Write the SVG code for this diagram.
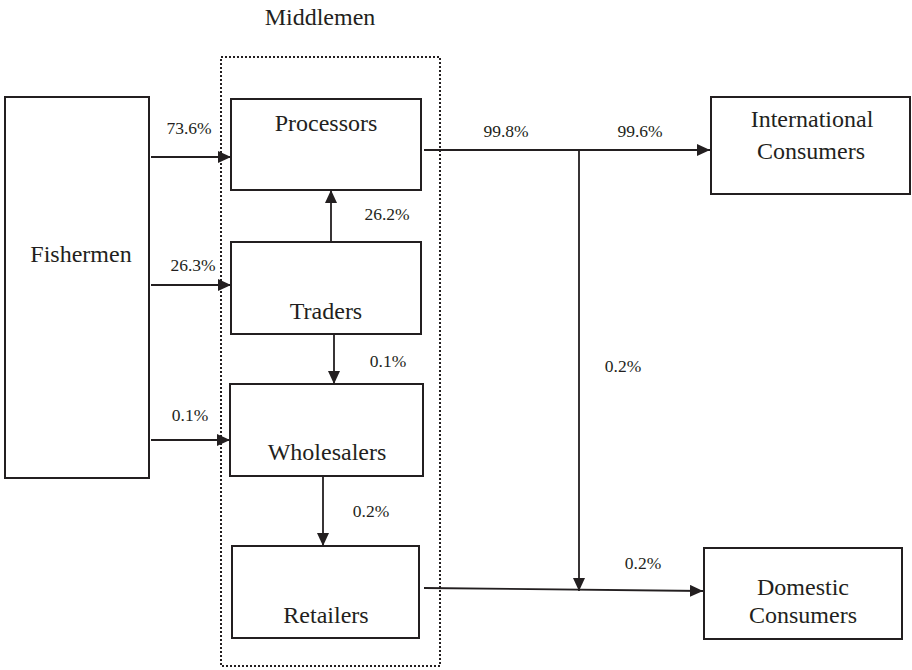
<svg xmlns="http://www.w3.org/2000/svg" width="912" height="670" viewBox="0 0 912 670">
<style>
.node{fill:#fff;stroke:#231f20;stroke-width:2}
.big{font-size:24px;fill:#231f20;text-anchor:middle}
.lbl{font-size:17.5px;fill:#231f20;text-anchor:middle}
.conn{fill:none;stroke:#231f20;stroke-width:1.8}
.dot{fill:none;stroke:#231f20;stroke-width:2;stroke-dasharray:2 2}
</style>
<defs>
<marker id="ah" markerUnits="userSpaceOnUse" markerWidth="14" markerHeight="12" refX="13" refY="6" orient="auto">
<path d="M0,0 L13,6 L0,12 Z" fill="#231f20"/>
</marker>
</defs>
<rect width="912" height="670" fill="#fff"/>
<g font-family="Liberation Serif, Times New Roman, serif">
<g id="middlemen">
<rect class="dot" x="221" y="57" width="219" height="609"/>
<text class="big" x="320" y="25">Middlemen</text>
</g>
<g id="fishermen"><rect class="node" x="5" y="97" width="144" height="381"/><text class="big" x="81" y="262">Fishermen</text></g>
<g id="processors"><rect class="node" x="231" y="99" width="190" height="91"/><text class="big" x="326" y="131">Processors</text></g>
<g id="traders"><rect class="node" x="231" y="242" width="190" height="92"/><text class="big" x="326" y="319">Traders</text></g>
<g id="wholesalers"><rect class="node" x="230" y="384" width="193" height="92"/><text class="big" x="327" y="460">Wholesalers</text></g>
<g id="retailers"><rect class="node" x="232" y="546" width="187" height="92"/><text class="big" x="326" y="623">Retailers</text></g>
<g id="international"><rect class="node" x="711" y="97" width="199" height="97"/><text class="big" x="812" y="127">International</text><text class="big" x="811" y="159">Consumers</text></g>
<g id="domestic"><rect class="node" x="704" y="548" width="198" height="91"/><text class="big" x="803" y="595">Domestic</text><text class="big" x="803" y="623">Consumers</text></g>
<g id="connectors">
<path class="conn" d="M151 157 H231" marker-end="url(#ah)"/>
<path class="conn" d="M151 285 H231" marker-end="url(#ah)"/>
<path class="conn" d="M151 440 H230" marker-end="url(#ah)"/>
<path class="conn" d="M331 242 V190" marker-end="url(#ah)"/>
<path class="conn" d="M334 334 V384" marker-end="url(#ah)"/>
<path class="conn" d="M323 476 V546" marker-end="url(#ah)"/>
<path class="conn" d="M424 150 H710" marker-end="url(#ah)"/>
<path class="conn" d="M579 150 V591" marker-end="url(#ah)"/>
<path class="conn" d="M424 588 L703 591" marker-end="url(#ah)"/>
<text class="lbl" x="189" y="134">73.6%</text>
<text class="lbl" x="193" y="271">26.3%</text>
<text class="lbl" x="190" y="421">0.1%</text>
<text class="lbl" x="387" y="220">26.2%</text>
<text class="lbl" x="388" y="367">0.1%</text>
<text class="lbl" x="371" y="517">0.2%</text>
<text class="lbl" x="506" y="137">99.8%</text>
<text class="lbl" x="640" y="137">99.6%</text>
<text class="lbl" x="623" y="372">0.2%</text>
<text class="lbl" x="643" y="569">0.2%</text>
</g>
</g>
</svg>
